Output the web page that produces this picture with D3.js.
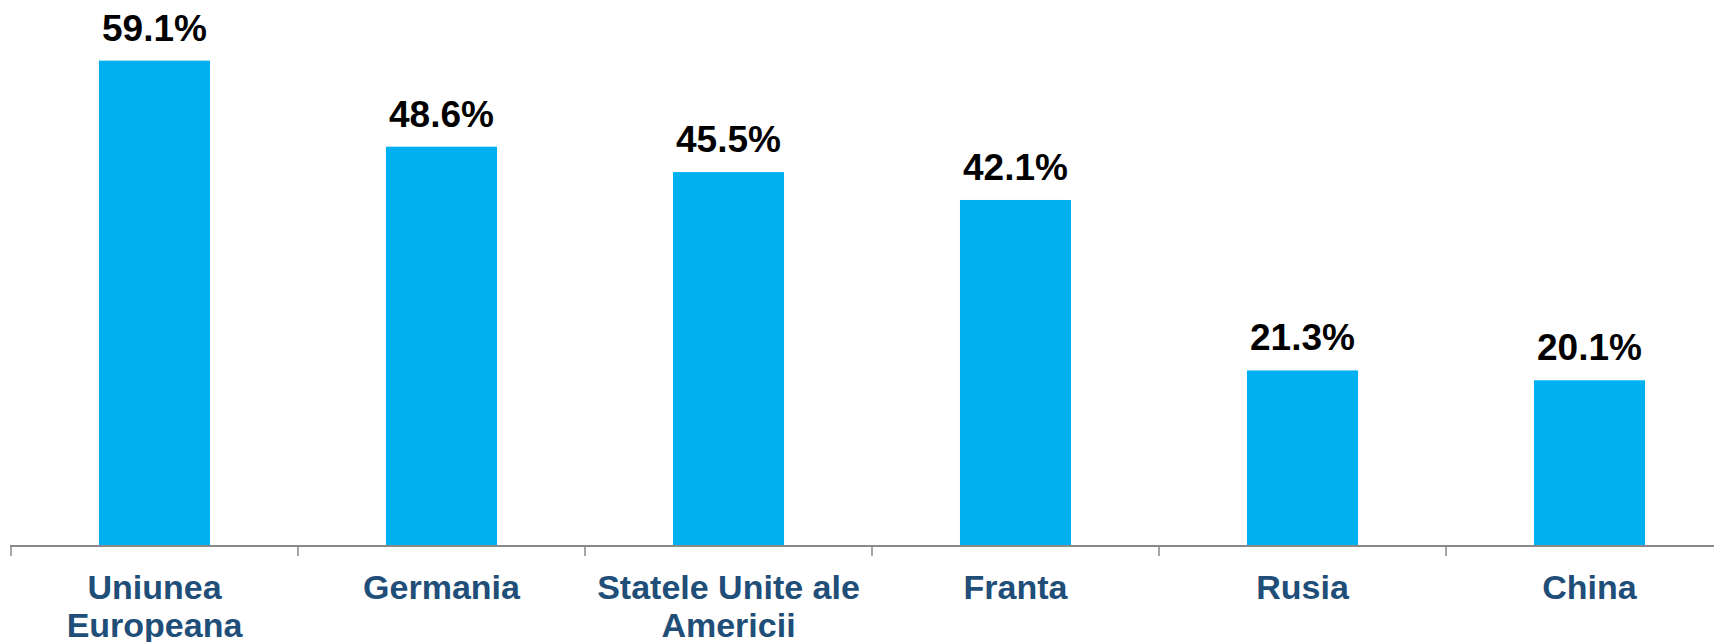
<!DOCTYPE html>
<html>
<head>
<meta charset="utf-8">
<script src="https://cdn.jsdelivr.net/npm/d3@7"></script>
<style>
  html, body { margin: 0; padding: 0; background: #ffffff; }
  svg { display: block; }
  text { font-family: "Liberation Sans", Arial, Helvetica, sans-serif; font-weight: bold; }
</style>
</head>
<body>
<svg id="chart" width="1714" height="642"></svg>
<script>
const categories = ["Uniunea Europeana", "Germania", "Statele Unite ale Americii", "Franta", "Rusia", "China"];
const values = [59.1, 48.6, 45.5, 42.1, 21.3, 20.1];
const valueLabels = ["59.1%", "48.6%", "45.5%", "42.1%", "21.3%", "20.1%"];

const W = 1714, H = 642;
const svg = d3.select("#chart");

const x = d3.scaleBand().domain(categories).range([11, 1733]).paddingInner(0).paddingOuter(0);
const y = d3.scaleLinear().domain([0, 66.5]).range([545, 0]);
const barW = x.bandwidth() * 0.387;

const data = categories.map((c, i) => ({ c, v: values[i], label: valueLabels[i] }));

// bars
svg.append("g").selectAll("rect").data(data).join("rect")
  .attr("x", d => x(d.c) + (x.bandwidth() - barW) / 2)
  .attr("y", d => y(d.v))
  .attr("width", barW)
  .attr("height", d => y(0) - y(d.v))
  .attr("fill", "#00B0F0");

// value labels
svg.append("g").selectAll("text").data(data).join("text")
  .attr("x", d => x(d.c) + x.bandwidth() / 2)
  .attr("y", d => y(d.v) - 20)
  .attr("text-anchor", "middle")
  .attr("font-size", 37)
  .attr("fill", "#000000")
  .text(d => d.label);

// axis line and ticks at band boundaries
const axisG = svg.append("g");
axisG.append("line")
  .attr("x1", x.range()[0] - 1).attr("x2", x.range()[1])
  .attr("y1", y(0) + 1).attr("y2", y(0) + 1)
  .attr("stroke", "#898989").attr("stroke-width", 2);
const boundaries = categories.map(c => x(c)).concat([x.range()[1]]);
axisG.selectAll("line.tick").data(boundaries).join("line")
  .attr("class", "tick")
  .attr("x1", d => d).attr("x2", d => d)
  .attr("y1", y(0) + 1).attr("y2", y(0) + 11)
  .attr("stroke", "#898989").attr("stroke-width", 1.5);

// category labels with wrapping
const catG = svg.append("g").selectAll("text").data(data).join("text")
  .attr("x", d => x(d.c) + x.bandwidth() / 2)
  .attr("y", 599)
  .attr("text-anchor", "middle")
  .attr("font-size", 34)
  .attr("fill", "#1F4E79");

catG.each(function(d) {
  const t = d3.select(this);
  const words = d.c.split(" ");
  const maxW = x.bandwidth() - 10;
  let line = [];
  let lineNo = 0;
  let tspan = t.append("tspan").attr("x", x(d.c) + x.bandwidth() / 2).attr("dy", 0);
  words.forEach(w => {
    line.push(w);
    tspan.text(line.join(" "));
    if (tspan.node().getComputedTextLength() > maxW && line.length > 1) {
      line.pop();
      tspan.text(line.join(" "));
      line = [w];
      lineNo++;
      tspan = t.append("tspan").attr("x", x(d.c) + x.bandwidth() / 2).attr("dy", 38).text(w);
    }
  });
});
</script>
</body>
</html>
